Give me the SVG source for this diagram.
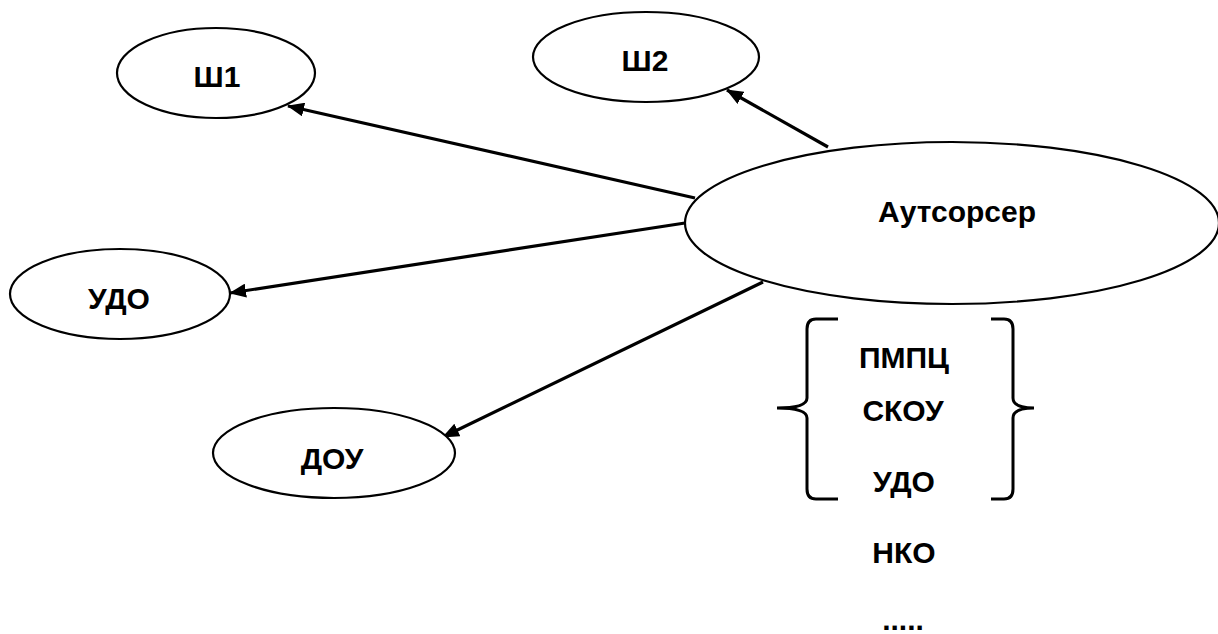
<svg xmlns="http://www.w3.org/2000/svg" width="1218" height="634" viewBox="0 0 1218 634">
<style>
.node ellipse{fill:#fff;stroke:#000;stroke-width:2.2}
text{font-family:"Liberation Sans",Arial,sans-serif;font-weight:bold;font-size:30px;fill:#000;text-anchor:middle}
.edge{stroke:#000;stroke-width:3.2;fill:none;marker-end:url(#arr)}
.brace{stroke:#000;stroke-width:3;fill:none}
</style>
<defs>
<marker id="arr" markerUnits="userSpaceOnUse" markerWidth="18" markerHeight="14" refX="16" refY="7" orient="auto">
<path d="M0,0 L17,7 L0,14 Z" fill="#000"/>
</marker>
</defs>
<rect width="1218" height="634" fill="#fff"/>
<g id="connectors">
<line class="edge" x1="695" y1="198" x2="288" y2="106"/>
<line class="edge" x1="828" y1="147" x2="727" y2="90"/>
<line class="edge" x1="685" y1="223" x2="230" y2="293"/>
<line class="edge" x1="763" y1="282" x2="443" y2="437"/>
</g>
<g id="sh1" class="node"><ellipse cx="216" cy="73" rx="99" ry="45"/><text x="217" y="87">Ш1</text></g>
<g id="sh2" class="node"><ellipse cx="646" cy="57" rx="113" ry="45"/><text x="645" y="71">Ш2</text></g>
<g id="udo" class="node"><ellipse cx="120" cy="294" rx="110" ry="45"/><text x="119" y="309">УДО</text></g>
<g id="dou" class="node"><ellipse cx="334" cy="453" rx="121" ry="45"/><text x="332" y="469">ДОУ</text></g>
<g id="outsourcer" class="node"><ellipse cx="952" cy="223" rx="267" ry="81"/><text x="957" y="222">Аутсорсер</text></g>
<g id="list">
<path class="brace" d="M838,319 L816,319 Q807,319 807,329 L807,398 Q807,408 777,408 Q807,408 807,418 L807,489 Q807,499 816,499 L838,499"/>
<path class="brace" d="M991,319 L1004,319 Q1013,319 1013,329 L1013,398 Q1013,408 1034,408 Q1013,408 1013,418 L1013,489 Q1013,499 1004,499 L991,499"/>
<text x="904" y="368">ПМПЦ</text>
<text x="903" y="421">СКОУ</text>
<text x="904" y="492">УДО</text>
<text x="904" y="563">НКО</text>
<text x="903" y="630">.....</text>
</g>
</svg>
